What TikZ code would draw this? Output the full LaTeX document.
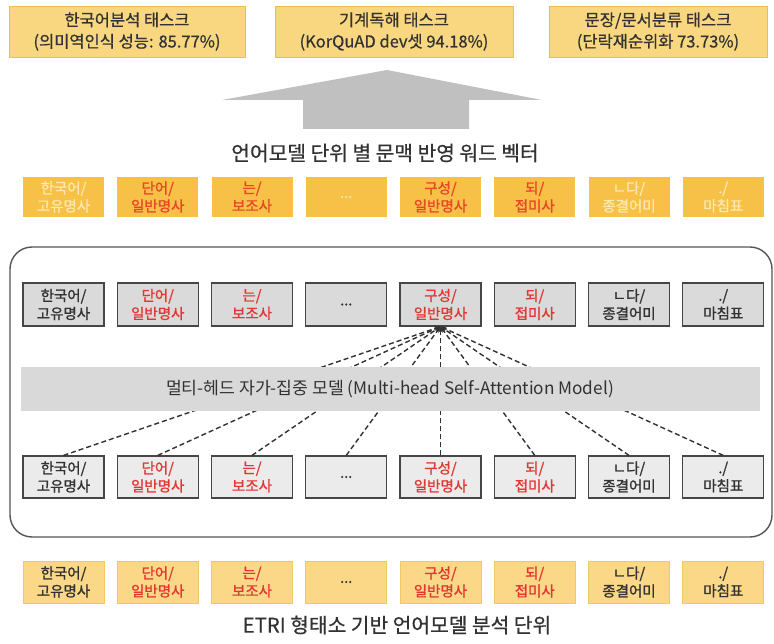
\documentclass[tikz,border=0pt]{standalone}
\usepackage{fontspec}
\setmainfont{Noto Sans CJK KR}
\newfontfamily\heavyish[FakeBold=1.2]{Noto Sans CJK KR}
\newfontfamily\semiheavy[FakeBold=0.6]{Noto Sans CJK KR}
\usetikzlibrary{arrows.meta}
\definecolor{bigfill}{RGB}{249,214,128}
\definecolor{bigdraw}{RGB}{236,190,80}
\definecolor{otop}{RGB}{246,193,70}
\definecolor{obot}{RGB}{250,216,135}
\definecolor{obotdraw}{RGB}{240,200,100}
\definecolor{gtop}{RGB}{218,218,218}
\definecolor{gbot}{RGB}{235,235,235}
\definecolor{gdraw}{RGB}{70,70,70}
\definecolor{band}{RGB}{217,217,217}
\definecolor{arrowgray}{RGB}{192,192,192}
\definecolor{dk}{RGB}{50,50,50}
\definecolor{rd}{RGB}{226,56,52}
\definecolor{ordtxt}{RGB}{232,70,40}
\definecolor{faded}{RGB}{252,232,176}
\definecolor{framecol}{RGB}{85,85,85}
\colorlet{tc1}{dk}\colorlet{tc2}{rd}\colorlet{tc3}{rd}\colorlet{tc4}{dk}
\colorlet{tc5}{rd}\colorlet{tc6}{rd}\colorlet{tc7}{dk}\colorlet{tc8}{dk}
\colorlet{oc1}{faded}\colorlet{oc2}{ordtxt}\colorlet{oc3}{ordtxt}\colorlet{oc4}{faded}
\colorlet{oc5}{ordtxt}\colorlet{oc6}{ordtxt}\colorlet{oc7}{faded}\colorlet{oc8}{faded}
\newcommand\unitlabel[1]{\ifcase#1\or 한국어/\\고유명사\or 단어/\\일반명사\or 는/\\보조사\or ...\or 구성/\\일반명사\or 되/\\접미사\or ㄴ다/\\종결어미\or ./\\마침표\fi}
\tikzset{
  bigbox/.style={rectangle, fill=bigfill, draw=bigdraw, line width=0.8pt, align=center, inner sep=0pt, font=\semiheavy\fontsize{16.5}{21.5}\selectfont, text=dk},
  unitbase/.style={rectangle, minimum width=81pt, align=center, inner sep=0pt, font=\heavyish\fontsize{14.5}{18}\selectfont},
  obox/.style={unitbase, fill=otop, minimum height=40pt},
  gboxt/.style={unitbase, fill=gtop, draw=gdraw, line width=1.2pt, minimum height=43pt},
  gboxb/.style={unitbase, fill=gbot, draw=gdraw, line width=1.2pt, minimum height=42pt},
  uboxb/.style={unitbase, fill=obot, draw=obotdraw, line width=0.6pt, minimum height=42pt},
  caption/.style={inner sep=0pt, font=\semiheavy\fontsize{20.3}{24}\selectfont, text=dk},
  attn/.style={dash pattern=on 5pt off 3pt, line width=1.4pt, draw=dk, -{Stealth[length=6pt,width=4.5pt]}}
}
\begin{document}
\begin{tikzpicture}[x=1pt,y=-1pt]
\useasboundingbox (0,0) rectangle (774,644);
% top task boxes
\node[bigbox, minimum width=236pt, minimum height=51pt] (t1) at (127,31.5) {한국어분석 태스크\\(의미역인식 성능: 85.77\%)};
\node[bigbox, minimum width=238pt, minimum height=51pt] (t2) at (394,31.5) {기계독해 태스크\\(KorQuAD dev셋 94.18\%)};
\node[bigbox, minimum width=218pt, minimum height=51pt] (t3) at (658,31.5) {문장/문서분류 태스크\\(단락재순위화 73.73\%)};
% big arrow
\fill[arrowgray] (387,70) -- (542,100) -- (469,100) -- (469,129) -- (303,129) -- (303,100) -- (222,100) -- cycle;
\node[caption] (cap1) at (385,153) {언어모델 단위 별 문맥 반영 워드 벡터};
% frame
\draw[framecol, line width=1.4pt, rounded corners=22pt] (10,247) rectangle (772,537);
\foreach \i in {1,...,8}{
  \pgfmathsetmacro\cx{63.5+94.25*(\i-1)}
  \node[obox, text=oc\i] (o\i) at (\cx,197) {\unitlabel{\i}};
  \node[gboxt, text=tc\i] (g\i) at (\cx,304.5) {\unitlabel{\i}};
  \node[gboxb, text=tc\i] (b\i) at (\cx,477) {\unitlabel{\i}};
  \node[uboxb, text=tc\i] (u\i) at (\cx,582) {\unitlabel{\i}};
}
\foreach \i in {1,...,8}{
  \draw[attn] (b\i.north) -- (g5.south);
}
\node[rectangle, fill=band, minimum width=739pt, minimum height=44pt, inner sep=0pt, font=\fontsize{17.2}{22}\selectfont, text=dk] (band) at (390,389) {멀티-헤드 자가-집중 모델 (Multi-head Self-Attention Model)};
\node[caption] (cap2) at (397,625) {ETRI 형태소 기반 언어모델 분석 단위};
\end{tikzpicture}
\end{document}
